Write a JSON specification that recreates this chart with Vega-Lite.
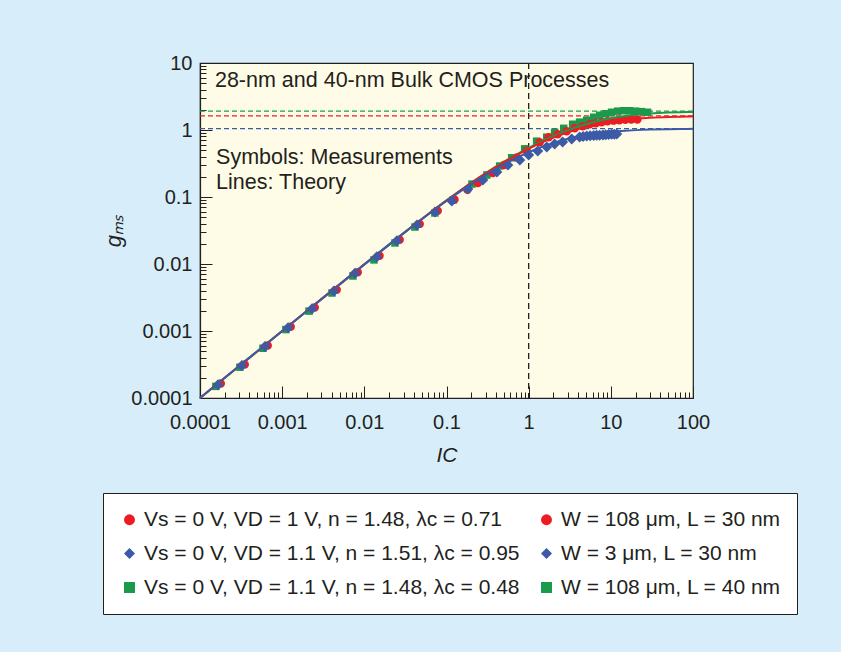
{
  "$schema": "https://vega.github.io/schema/vega-lite/v6.json",
  "width": 493,
  "height": 335,
  "autosize": {"type": "none"},
  "padding": {"left": 200, "top": 63, "right": 148, "bottom": 254},
  "background": "#d7eefa",
  "config": {
    "font": "Liberation Sans",
    "view": {"fill": "#fefce6", "stroke": "#231f20", "strokeWidth": 1.2}
  },
  "datasets": {
    "meas": [
      {"s": "b", "ic": 0.000166, "g": 0.000158}, {"s": "b", "ic": 0.000324, "g": 0.000305}, {"s": "b", "ic": 0.000618, "g": 0.000585},
      {"s": "b", "ic": 0.00118, "g": 0.00112}, {"s": "b", "ic": 0.00231, "g": 0.00215}, {"s": "b", "ic": 0.00427, "g": 0.00395},
      {"s": "b", "ic": 0.00769, "g": 0.00725}, {"s": "b", "ic": 0.0142, "g": 0.0128}, {"s": "b", "ic": 0.0249, "g": 0.0222},
      {"s": "b", "ic": 0.0437, "g": 0.0382}, {"s": "b", "ic": 0.0723, "g": 0.0597}, {"s": "b", "ic": 0.116, "g": 0.0871},
      {"s": "b", "ic": 0.182, "g": 0.1315}, {"s": "b", "ic": 0.277, "g": 0.179}, {"s": "b", "ic": 0.41, "g": 0.236},
      {"s": "b", "ic": 0.558, "g": 0.3}, {"s": "b", "ic": 0.781, "g": 0.357}, {"s": "b", "ic": 1.0, "g": 0.424},
      {"s": "b", "ic": 1.29, "g": 0.486}, {"s": "b", "ic": 1.66, "g": 0.557}, {"s": "b", "ic": 2.07, "g": 0.618},
      {"s": "b", "ic": 2.59, "g": 0.662}, {"s": "b", "ic": 3.34, "g": 0.734}, {"s": "b", "ic": 4.17, "g": 0.787},
      {"s": "b", "ic": 4.6, "g": 0.8}, {"s": "b", "ic": 5.08, "g": 0.813}, {"s": "b", "ic": 5.6, "g": 0.82},
      {"s": "b", "ic": 6.18, "g": 0.828}, {"s": "b", "ic": 6.7, "g": 0.832}, {"s": "b", "ic": 7.31, "g": 0.838},
      {"s": "b", "ic": 8.0, "g": 0.845}, {"s": "b", "ic": 8.65, "g": 0.85}, {"s": "b", "ic": 9.4, "g": 0.856},
      {"s": "b", "ic": 10.2, "g": 0.862}, {"s": "b", "ic": 11.0, "g": 0.866}, {"s": "b", "ic": 11.8, "g": 0.87},

      {"s": "r", "ic": 0.000179, "g": 0.000164}, {"s": "r", "ic": 0.00035, "g": 0.000317}, {"s": "r", "ic": 0.000667, "g": 0.000608},
      {"s": "r", "ic": 0.00127, "g": 0.00116}, {"s": "r", "ic": 0.00249, "g": 0.00224}, {"s": "r", "ic": 0.00461, "g": 0.00411},
      {"s": "r", "ic": 0.0083, "g": 0.00754}, {"s": "r", "ic": 0.0153, "g": 0.0133}, {"s": "r", "ic": 0.0269, "g": 0.0231},
      {"s": "r", "ic": 0.0472, "g": 0.0397}, {"s": "r", "ic": 0.0781, "g": 0.0621}, {"s": "r", "ic": 0.125, "g": 0.092},
      {"s": "r", "ic": 0.18, "g": 0.128},
      {"s": "r", "ic": 0.241, "g": 0.162}, {"s": "r", "ic": 0.366, "g": 0.228}, {"s": "r", "ic": 0.499, "g": 0.3},
      {"s": "r", "ic": 0.715, "g": 0.39}, {"s": "r", "ic": 0.946, "g": 0.49}, {"s": "r", "ic": 1.36, "g": 0.658},
      {"s": "r", "ic": 1.75, "g": 0.78}, {"s": "r", "ic": 2.25, "g": 0.865}, {"s": "r", "ic": 2.9, "g": 0.96},
      {"s": "r", "ic": 3.63, "g": 1.06}, {"s": "r", "ic": 4.54, "g": 1.14}, {"s": "r", "ic": 5.53, "g": 1.22},
      {"s": "r", "ic": 6.53, "g": 1.26}, {"s": "r", "ic": 7.7, "g": 1.31}, {"s": "r", "ic": 9.1, "g": 1.35},
      {"s": "r", "ic": 10.8, "g": 1.38}, {"s": "r", "ic": 12.7, "g": 1.4}, {"s": "r", "ic": 15.0, "g": 1.42},
      {"s": "r", "ic": 17.7, "g": 1.43}, {"s": "r", "ic": 21.0, "g": 1.44},

      {"s": "g", "ic": 0.000156, "g": 0.000149}, {"s": "g", "ic": 0.000306, "g": 0.000288}, {"s": "g", "ic": 0.000585, "g": 0.000553},
      {"s": "g", "ic": 0.00111, "g": 0.00105}, {"s": "g", "ic": 0.00212, "g": 0.00198}, {"s": "g", "ic": 0.00404, "g": 0.00369},
      {"s": "g", "ic": 0.00727, "g": 0.00662}, {"s": "g", "ic": 0.0131, "g": 0.0115}, {"s": "g", "ic": 0.0236, "g": 0.0206},
      {"s": "g", "ic": 0.0413, "g": 0.0356}, {"s": "g", "ic": 0.0722, "g": 0.0577}, {"s": "g", "ic": 0.12, "g": 0.09},
      {"s": "g", "ic": 0.204, "g": 0.156}, {"s": "g", "ic": 0.31, "g": 0.213}, {"s": "g", "ic": 0.444, "g": 0.29},
      {"s": "g", "ic": 0.621, "g": 0.385}, {"s": "g", "ic": 0.894, "g": 0.524}, {"s": "g", "ic": 1.25, "g": 0.681},
      {"s": "g", "ic": 1.66, "g": 0.781}, {"s": "g", "ic": 2.07, "g": 0.927}, {"s": "g", "ic": 2.67, "g": 1.06},
      {"s": "g", "ic": 3.43, "g": 1.22}, {"s": "g", "ic": 4.17, "g": 1.31}, {"s": "g", "ic": 5.08, "g": 1.4},
      {"s": "g", "ic": 6.18, "g": 1.55}, {"s": "g", "ic": 7.31, "g": 1.66}, {"s": "g", "ic": 8.65, "g": 1.75},
      {"s": "g", "ic": 10.2, "g": 1.84}, {"s": "g", "ic": 12.1, "g": 1.91}, {"s": "g", "ic": 14.3, "g": 1.94},
      {"s": "g", "ic": 16.9, "g": 1.94}, {"s": "g", "ic": 20.0, "g": 1.91}, {"s": "g", "ic": 23.6, "g": 1.88},
      {"s": "g", "ic": 28.0, "g": 1.84}
    ],
    "theory": [
      {"s": "b", "ic": 0.0001, "g": 0.0001}, {"s": "b", "ic": 0.0003, "g": 0.0003}, {"s": "b", "ic": 0.001, "g": 0.000998},
      {"s": "b", "ic": 0.003, "g": 0.002985}, {"s": "b", "ic": 0.01, "g": 0.00984}, {"s": "b", "ic": 0.03, "g": 0.02864},
      {"s": "b", "ic": 0.1, "g": 0.087}, {"s": "b", "ic": 0.2, "g": 0.1561}, {"s": "b", "ic": 0.3, "g": 0.2138},
      {"s": "b", "ic": 0.5, "g": 0.3068}, {"s": "b", "ic": 0.7, "g": 0.3799}, {"s": "b", "ic": 1, "g": 0.4654},
      {"s": "b", "ic": 1.5, "g": 0.5685}, {"s": "b", "ic": 2, "g": 0.6416}, {"s": "b", "ic": 3, "g": 0.7387},
      {"s": "b", "ic": 5, "g": 0.8421}, {"s": "b", "ic": 7, "g": 0.8958}, {"s": "b", "ic": 10, "g": 0.9401},
      {"s": "b", "ic": 15, "g": 0.9768}, {"s": "b", "ic": 20, "g": 0.9957}, {"s": "b", "ic": 30, "g": 1.0148},
      {"s": "b", "ic": 50, "g": 1.0301}, {"s": "b", "ic": 70, "g": 1.0366}, {"s": "b", "ic": 100, "g": 1.0414},

      {"s": "r", "ic": 0.0001, "g": 0.0001}, {"s": "r", "ic": 0.0003, "g": 0.0003}, {"s": "r", "ic": 0.001, "g": 0.000998},
      {"s": "r", "ic": 0.003, "g": 0.00299}, {"s": "r", "ic": 0.01, "g": 0.00987}, {"s": "r", "ic": 0.03, "g": 0.02884},
      {"s": "r", "ic": 0.1, "g": 0.0888}, {"s": "r", "ic": 0.2, "g": 0.1619}, {"s": "r", "ic": 0.3, "g": 0.2247},
      {"s": "r", "ic": 0.5, "g": 0.3301}, {"s": "r", "ic": 0.7, "g": 0.417}, {"s": "r", "ic": 1, "g": 0.5244},
      {"s": "r", "ic": 1.5, "g": 0.6636}, {"s": "r", "ic": 2, "g": 0.7709}, {"s": "r", "ic": 3, "g": 0.9275},
      {"s": "r", "ic": 5, "g": 1.1187}, {"s": "r", "ic": 7, "g": 1.2312}, {"s": "r", "ic": 10, "g": 1.3327},
      {"s": "r", "ic": 15, "g": 1.4232}, {"s": "r", "ic": 20, "g": 1.4721}, {"s": "r", "ic": 30, "g": 1.5227},
      {"s": "r", "ic": 50, "g": 1.5633}, {"s": "r", "ic": 70, "g": 1.5805}, {"s": "r", "ic": 100, "g": 1.593},

      {"s": "g", "ic": 0.0001, "g": 0.0001}, {"s": "g", "ic": 0.0003, "g": 0.0003}, {"s": "g", "ic": 0.001, "g": 0.000998},
      {"s": "g", "ic": 0.003, "g": 0.00299}, {"s": "g", "ic": 0.01, "g": 0.00987}, {"s": "g", "ic": 0.03, "g": 0.02889},
      {"s": "g", "ic": 0.1, "g": 0.0893}, {"s": "g", "ic": 0.2, "g": 0.1634}, {"s": "g", "ic": 0.3, "g": 0.2276},
      {"s": "g", "ic": 0.5, "g": 0.3363}, {"s": "g", "ic": 0.7, "g": 0.4271}, {"s": "g", "ic": 1, "g": 0.5408},
      {"s": "g", "ic": 1.5, "g": 0.6913}, {"s": "g", "ic": 2, "g": 0.81}, {"s": "g", "ic": 3, "g": 0.9887},
      {"s": "g", "ic": 5, "g": 1.2176}, {"s": "g", "ic": 7, "g": 1.3592}, {"s": "g", "ic": 10, "g": 1.4923},
      {"s": "g", "ic": 15, "g": 1.6164}, {"s": "g", "ic": 20, "g": 1.6855}, {"s": "g", "ic": 30, "g": 1.7587},
      {"s": "g", "ic": 50, "g": 1.8182}, {"s": "g", "ic": 70, "g": 1.8433}, {"s": "g", "ic": 100, "g": 1.8617}
    ]
  },
  "layer": [
    {
      "data": {"values": [{"s": "r", "lvl": 1.62}, {"s": "b", "lvl": 1.05}, {"s": "g", "lvl": 1.91}]},
      "mark": {"type": "rule", "strokeDash": [5, 3], "strokeWidth": 1.3},
      "encoding": {
        "y": {"field": "lvl", "type": "quantitative", "scale": {"type": "log", "domain": [0.0001, 10], "nice": false}, "axis": null},
        "stroke": {"field": "s", "type": "nominal", "scale": {"domain": ["r", "b", "g"], "range": ["#ed1c24", "#3b5ba9", "#1b9a4b"]}, "legend": null}
      }
    },
    {
      "data": {"values": [{"v": 1}]},
      "mark": {"type": "rule", "strokeDash": [6, 4], "strokeWidth": 1.3, "color": "#231f20"},
      "encoding": {
        "x": {"field": "v", "type": "quantitative", "scale": {"type": "log", "domain": [0.0001, 100], "nice": false}, "axis": null}
      }
    },
    {
      "data": {"name": "meas"},
      "transform": [{"filter": "datum.s == 'g'"}],
      "mark": {"type": "point", "filled": true, "size": 56, "opacity": 1},
      "encoding": {
        "x": {"field": "ic", "type": "quantitative", "scale": {"type": "log", "domain": [0.0001, 100], "nice": false}, "axis": null},
        "y": {"field": "g", "type": "quantitative", "scale": {"type": "log", "domain": [0.0001, 10], "nice": false}, "axis": null},
        "color": {"field": "s", "type": "nominal", "scale": {"domain": ["r", "b", "g", "rw", "bw", "gw"], "range": ["#ed1c24", "#3b5ba9", "#1b9a4b", "#ed1c24", "#3b5ba9", "#1b9a4b"]},
          "legend": {"title": null, "orient": "none", "legendX": -97, "legendY": 430, "columns": 2, "labelFont": "Liberation Sans", "labelFontSize": 21, "labelColor": "#231f20", "labelLimit": 600, "symbolSize": 120, "symbolStrokeWidth": 0, "padding": 16, "rowPadding": 12, "columnPadding": 16, "labelOffset": 4, "strokeColor": "#231f20", "fillColor": "#ffffff",
            "labelExpr": "datum.label == 'r' ? 'Vs = 0 V, VD = 1 V, n = 1.48, λc = 0.71' : datum.label == 'rw' ? 'W = 108 μm, L = 30 nm' : datum.label == 'b' ? 'Vs = 0 V, VD = 1.1 V, n = 1.51, λc = 0.95' : datum.label == 'bw' ? 'W = 3 μm, L = 30 nm' : datum.label == 'g' ? 'Vs = 0 V, VD = 1.1 V, n = 1.48, λc = 0.48' : 'W = 108 μm, L = 40 nm'"}},
        "shape": {"field": "s", "type": "nominal", "scale": {"domain": ["r", "b", "g", "rw", "bw", "gw"], "range": ["circle", "diamond", "square", "circle", "diamond", "square"]},
          "legend": {"title": null, "orient": "none", "legendX": -97, "legendY": 430, "columns": 2, "labelFont": "Liberation Sans", "labelFontSize": 21, "labelColor": "#231f20", "labelLimit": 600, "symbolSize": 120, "symbolStrokeWidth": 0, "padding": 16, "rowPadding": 12, "columnPadding": 16, "labelOffset": 4, "strokeColor": "#231f20", "fillColor": "#ffffff",
            "labelExpr": "datum.label == 'r' ? 'Vs = 0 V, VD = 1 V, n = 1.48, λc = 0.71' : datum.label == 'rw' ? 'W = 108 μm, L = 30 nm' : datum.label == 'b' ? 'Vs = 0 V, VD = 1.1 V, n = 1.51, λc = 0.95' : datum.label == 'bw' ? 'W = 3 μm, L = 30 nm' : datum.label == 'g' ? 'Vs = 0 V, VD = 1.1 V, n = 1.48, λc = 0.48' : 'W = 108 μm, L = 40 nm'"}}
      }
    },
    {
      "data": {"name": "meas"},
      "transform": [{"filter": "datum.s == 'r'"}],
      "mark": {"type": "point", "filled": true, "size": 72, "opacity": 1},
      "encoding": {
        "x": {"field": "ic", "type": "quantitative", "scale": {"type": "log", "domain": [0.0001, 100], "nice": false}, "axis": null},
        "y": {"field": "g", "type": "quantitative", "scale": {"type": "log", "domain": [0.0001, 10], "nice": false}, "axis": null},
        "color": {"field": "s", "type": "nominal"},
        "shape": {"field": "s", "type": "nominal"}
      }
    },
    {
      "data": {"name": "meas"},
      "transform": [{"filter": "datum.s == 'b'"}],
      "mark": {"type": "point", "filled": true, "size": 121, "opacity": 1},
      "encoding": {
        "x": {"field": "ic", "type": "quantitative", "scale": {"type": "log", "domain": [0.0001, 100], "nice": false}, "axis": null},
        "y": {"field": "g", "type": "quantitative", "scale": {"type": "log", "domain": [0.0001, 10], "nice": false}, "axis": null},
        "color": {"field": "s", "type": "nominal"},
        "shape": {"field": "s", "type": "nominal"}
      }
    },
    {
      "data": {"name": "theory"},
      "transform": [{"filter": "datum.s == 'g'"}],
      "mark": {"type": "line", "strokeWidth": 2, "interpolate": "monotone"},
      "encoding": {
        "x": {"field": "ic", "type": "quantitative", "scale": {"type": "log", "domain": [0.0001, 100], "nice": false},
          "axis": {"orient": "bottom", "values": [0.0002, 0.0003, 0.0004, 0.0005, 0.0006, 0.0007, 0.0008, 0.0009, 0.002, 0.003, 0.004, 0.005, 0.006, 0.007, 0.008, 0.009, 0.02, 0.03, 0.04, 0.05, 0.06, 0.07, 0.08, 0.09, 0.2, 0.3, 0.4, 0.5, 0.6, 0.7, 0.8, 0.9, 2, 3, 4, 5, 6, 7, 8, 9, 20, 30, 40, 50, 60, 70, 80, 90], "tickSize": -6, "tickColor": "#231f20", "tickWidth": 1, "labels": false, "domain": false, "grid": false, "title": null}},
        "y": {"field": "g", "type": "quantitative", "scale": {"type": "log", "domain": [0.0001, 10], "nice": false},
          "axis": {"orient": "left", "values": [0.0002, 0.0003, 0.0004, 0.0005, 0.0006, 0.0007, 0.0008, 0.0009, 0.002, 0.003, 0.004, 0.005, 0.006, 0.007, 0.008, 0.009, 0.02, 0.03, 0.04, 0.05, 0.06, 0.07, 0.08, 0.09, 0.2, 0.3, 0.4, 0.5, 0.6, 0.7, 0.8, 0.9, 2, 3, 4, 5, 6, 7, 8, 9], "tickSize": -6, "tickColor": "#231f20", "tickWidth": 1, "labels": false, "domain": false, "grid": false, "title": null}},
        "stroke": {"field": "s", "type": "nominal", "legend": null}
      }
    },
    {
      "data": {"name": "theory"},
      "transform": [{"filter": "datum.s == 'r'"}],
      "mark": {"type": "line", "strokeWidth": 2, "interpolate": "monotone"},
      "encoding": {
        "x": {"field": "ic", "type": "quantitative", "scale": {"type": "log", "domain": [0.0001, 100], "nice": false}, "axis": null},
        "y": {"field": "g", "type": "quantitative", "scale": {"type": "log", "domain": [0.0001, 10], "nice": false}, "axis": null},
        "stroke": {"field": "s", "type": "nominal", "legend": null}
      }
    },
    {
      "data": {"name": "theory"},
      "transform": [{"filter": "datum.s == 'b'"}],
      "mark": {"type": "line", "strokeWidth": 2, "interpolate": "monotone"},
      "encoding": {
        "x": {"field": "ic", "type": "quantitative", "scale": {"type": "log", "domain": [0.0001, 100], "nice": false},
          "axis": {"orient": "bottom", "values": [0.0001, 0.001, 0.01, 0.1, 1, 10, 100], "format": "~g", "tickSize": -12, "tickColor": "#231f20", "tickWidth": 1, "domain": true, "domainColor": "#231f20", "domainWidth": 1.2, "grid": false, "labelFontSize": 20, "labelColor": "#231f20", "labelPadding": 26, "labelFlush": false, "labelOverlap": false, "labelBound": false, "title": "IC", "titleFontSize": 21, "titleFontStyle": "italic", "titleFontWeight": "normal", "titleColor": "#231f20", "titlePadding": 12}},
        "y": {"field": "g", "type": "quantitative", "scale": {"type": "log", "domain": [0.0001, 10], "nice": false},
          "axis": {"orient": "left", "values": [0.0001, 0.001, 0.01, 0.1, 1, 10], "format": "~g", "tickSize": -12, "tickColor": "#231f20", "tickWidth": 1, "domain": true, "domainColor": "#231f20", "domainWidth": 1.2, "grid": false, "labelFontSize": 20, "labelColor": "#231f20", "labelPadding": 20, "labelFlush": false, "labelOverlap": false, "labelBound": false, "title": "gₘₛ", "titleFontSize": 22, "titleFontStyle": "italic", "titleFontWeight": "normal", "titleColor": "#231f20", "titlePadding": 5}},
        "stroke": {"field": "s", "type": "nominal", "legend": null}
      }
    },
    {
      "data": {"values": [{"ic": 0.000152, "g": 4.39, "t": "28-nm and 40-nm Bulk CMOS Processes"}, {"ic": 0.000157, "g": 0.308, "t": "Symbols: Measurements"}, {"ic": 0.000157, "g": 0.131, "t": "Lines: Theory"}]},
      "mark": {"type": "text", "align": "left", "baseline": "alphabetic", "fontSize": 21.5, "color": "#231f20", "font": "Liberation Sans"},
      "encoding": {
        "x": {"field": "ic", "type": "quantitative", "scale": {"type": "log", "domain": [0.0001, 100], "nice": false}, "axis": null},
        "y": {"field": "g", "type": "quantitative", "scale": {"type": "log", "domain": [0.0001, 10], "nice": false}, "axis": null},
        "text": {"field": "t"}
      }
    }
  ],
  "resolve": {"axis": {"x": "independent", "y": "independent"}}
}
